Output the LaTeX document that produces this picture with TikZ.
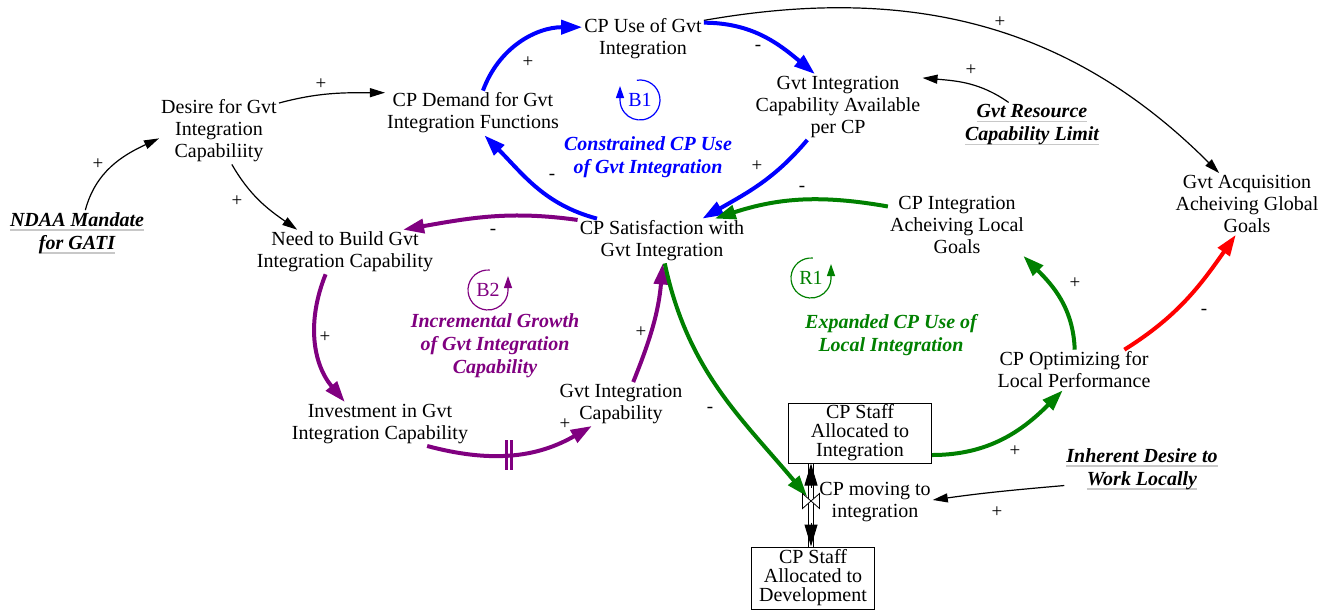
\documentclass[tikz,border=0pt]{standalone}
\usepackage{fontspec}
\setmainfont{Liberation Serif}
\usetikzlibrary{arrows.meta}
\definecolor{cldblue}{RGB}{0,0,255}
\definecolor{cldpurple}{RGB}{128,0,128}
\definecolor{cldgreen}{RGB}{0,128,0}
\definecolor{cldred}{RGB}{255,0,0}
\definecolor{ulgray}{RGB}{200,200,200}
\newsavebox\ulbox
\newcommand{\gul}[1]{\sbox\ulbox{#1}\rlap{\color{ulgray}\rule[-4.5pt]{\wd\ulbox}{1.5pt}}\usebox\ulbox}

\begin{document}
\begin{tikzpicture}[x=1pt, y=1pt, >={Triangle[length=15pt,width=9pt]},
  var/.style={align=center, inner sep=2pt, font=\fontsize{20}{22}\selectfont},
  exo/.style={var, font=\fontsize{20}{23}\selectfont\bfseries\itshape},
  stock/.style={draw, line width=1pt, align=center, inner sep=0pt, font=\fontsize{20}{19}\selectfont},
  loopname/.style={align=center, font=\fontsize{20}{23}\selectfont\bfseries\itshape},
  pol/.style={inner sep=1pt, font=\fontsize{19}{19}\selectfont},
  link/.style={->, line width=1.2pt},
  bold link/.style={-{Triangle[length=21pt,width=14pt]}, line width=4pt},
  flow tip/.style={-{Triangle[length=22pt,width=13pt]}, line width=1pt}]

\useasboundingbox (0,0) rectangle (1321,-610);

\node[var] (desire) at (219,-131) {Desire for Gvt\\Integration\\Capabiliity};
\node[var] (demand) at (473,-113) {CP Demand for Gvt\\Integration Functions};
\node[var] (cp-use) at (643,-39) {CP Use of Gvt\\Integration};
\node[var] (avail) at (838,-107) {Gvt Integration\\Capability Available\\per CP};
\node[var] (global) at (1247,-204) {Gvt Acquisition\\Acheiving Global\\Goals};
\node[var] (need) at (345,-252) {Need to Build Gvt\\Integration Capability};
\node[var] (sat) at (662,-241) {CP Satisfaction with\\Gvt Integration};
\node[var] (local) at (957,-225) {CP Integration\\Acheiving Local\\Goals};
\node[var] (optim) at (1074,-370) {CP Optimizing for\\Local Performance};
\node[var] (invest) at (380,-424) {Investment in Gvt\\Integration Capability};
\node[var] (gcap) at (621,-404) {Gvt Integration\\Capability};
\node[var] (moving) at (875,-502) {CP moving to\\integration};

\node[exo] (ndaa) at (77,-233) {\gul{NDAA Mandate}\\\gul{for GATI}};
\node[exo] (limit) at (1032,-125) {\gul{Gvt Resource}\\\gul{Capability Limit}};
\node[exo] (inherent) at (1142,-469) {\gul{Inherent Desire to}\\\gul{Work Locally}};

\node[stock, minimum width=143, minimum height=60] (stock-int) at (860,-433) {CP Staff\\Allocated to\\Integration};
\node[stock, minimum width=123, minimum height=62] (stock-dev) at (813,-578) {CP Staff\\Allocated to\\Development};

\node[loopname, text=cldblue] (name-B1) at (648,-157) {Constrained CP Use\\of Gvt Integration};
\node[loopname, text=cldpurple] (name-B2) at (495,-346) {Incremental Growth\\of Gvt Integration\\Capability};
\node[loopname, text=cldgreen] (name-R1) at (891,-335) {Expanded CP Use of\\Local Integration};

\foreach \n/\c/\p/\s/\e in {B1/cldblue/{640,-100}/99/-180, B2/cldpurple/{488,-290}/85/360, R1/cldgreen/{811,-278}/85/360} {
  \node[text=\c, font=\fontsize{20}{22}\selectfont] (loop-\n) at (\p) {\n};
  \draw[\c, line width=1.2pt, -{Triangle[length=12pt,width=8pt]}] (loop-\n.center) ++(\s:20) arc[start angle=\s, end angle=\e, radius=20] -- ++(0,14);
}

\draw[link] (desire.25) to[out=15, in=180] (demand.167);
\draw[link] (ndaa.70) to[out=75, in=205] (desire.187);
\draw[link] (desire.-69) to[out=-60, in=145] (need.155);
\draw[link] (limit.136) to[out=145, in=-5] (avail.19);
\draw[link] (cp-use.17) to[out=10, in=135] (global.132);
\draw[link] (inherent.192) to[out=185, in=8] (moving.2);

\draw[bold link, cldblue] (demand.66) to[out=70, in=180] (cp-use.169);
\draw[bold link, cldblue] (cp-use.15) to[out=0, in=140] (avail.125);
\draw[bold link, cldblue] (avail.-133) to[out=230, in=30] (sat.29);
\draw[bold link, cldblue] (sat.161) to[out=165, in=-45] (demand.-63);

\draw[bold link, cldpurple] (sat.166) to[out=172, in=10] (need.21);
\draw[bold link, cldpurple] (need.-131) to[out=-112, in=130] (invest.148);
\draw[bold link, cldpurple] (invest.-25) to[out=-15, in=210] coordinate[pos=0.48] (delay) (gcap.-143);
\draw[bold link, cldpurple] (gcap.61) to[out=68, in=-95] (sat.-88);
\draw[cldpurple, line width=3pt] ([shift={(-2.5,-15)}]delay) -- ([shift={(-2.5,15)}]delay);
\draw[cldpurple, line width=3pt] ([shift={(2.5,-15)}]delay) -- ([shift={(2.5,15)}]delay);

\coordinate (valve) at (811,-501);
\coordinate (pipe-top) at (valve |- stock-int.south);
\coordinate (pipe-bot) at (valve |- stock-dev.north);

\draw[bold link, cldgreen, shorten >=6pt] (sat.-83) to[out=-78, in=130] (valve);
\draw[bold link, cldgreen] (local.165) to[out=170, in=18] (sat.23);
\draw[bold link, cldgreen] (optim.88) to[out=92, in=-45] (local.-25);
\draw[bold link, cldgreen] (stock-int.-17) to[out=0, in=225] (optim.-119);
\draw[bold link, cldred] (optim.22) to[out=32, in=-125] (global.-110);

\draw[line width=1pt, double distance=3.5pt] (pipe-top) -- (pipe-bot);
\draw[flow tip] ([yshift=-24pt]pipe-top) -- (pipe-top);
\draw[flow tip] ([yshift=24pt]pipe-bot) -- (pipe-bot);
\draw[fill=white, line width=0.8pt] (valve) ++(-8.5,7.5) -- ++(17,-15) -- ++(0,15) -- ++(-17,-15) -- cycle;

\foreach \x/\y/\s [count=\i] in {321/84/+, 98/164/+, 237/201/+, 528/62/+, 758/48/-, 757/166/+, 552/177/-, 971/70/+, 1000/22/+, 493/232/-, 325/337/+, 565/424/+, 641/332/+, 710/410/-, 802/189/-, 1075/283/+, 1015/451/+, 1204/312/-, 997/512/+}
  \node[pol] (pol-\i) at (\x,-\y) {\s};
\end{tikzpicture}
\end{document}
